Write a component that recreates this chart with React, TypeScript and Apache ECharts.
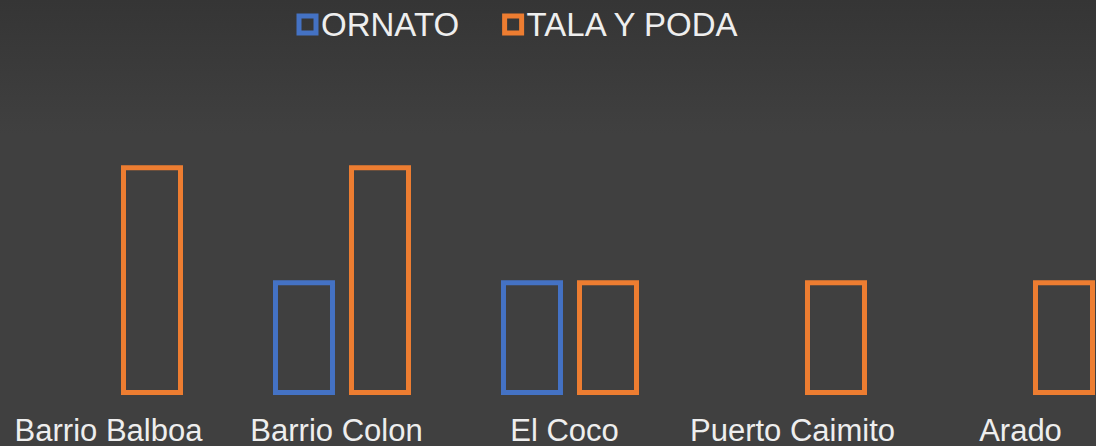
import React, { useEffect, useRef } from "react";
import * as echarts from "echarts";

const categories = ["Barrio Balboa", "Barrio Colon", "El Coco", "Puerto Caimito", "Arado"];
const ornato = [0, 1, 1, 0, 0];
const talaYPoda = [2, 2, 1, 1, 1];
const seriesNames = ["ORNATO", "TALA Y PODA"];
const colors = ["#4472C4", "#ED7D31"];

export default function App() {
  const ref = useRef<HTMLDivElement>(null);
  useEffect(() => {
    if (!ref.current) return;
    const chart = echarts.init(ref.current, undefined, { renderer: "svg" });
    const font = "'Liberation Sans', Arial, sans-serif";
    const mkSeries = (name: string, data: number[], color: string) => ({
      name,
      type: "bar",
      data: data.map((v) => (v === 0 ? null : v)),
      barWidth: 62,
      barGap: "22.6%",
      itemStyle: { color: "transparent", borderColor: color, borderWidth: 5 },
    });
    chart.setOption({
      animation: false,
      backgroundColor: {
        type: "linear",
        x: 0,
        y: 0,
        x2: 0,
        y2: 1,
        colorStops: [
          { offset: 0, color: "#353535" },
          { offset: 0.3, color: "#404040" },
          { offset: 1, color: "#404040" },
        ],
      },
      legend: {
        left: 296.5,
        top: 8,
        padding: 0,
        itemWidth: 17,
        itemHeight: 17,
        itemGap: 43,
        itemTextGap: 4,
        icon: "rect",
        textStyle: { color: "#eeeeee", fontSize: 33, fontFamily: font },
        data: seriesNames.map((n, i) => ({
          name: n,
          itemStyle: { color: "transparent", borderColor: colors[i], borderWidth: 5 },
        })),
      },
      grid: { left: 0, right: 0, top: 50.5, bottom: 49, containLabel: false },
      xAxis: {
        type: "category",
        data: categories,
        axisLine: { show: false },
        axisTick: { show: false },
        axisLabel: {
          color: "#eeeeee",
          fontSize: 31,
          lineHeight: 24,
          fontFamily: font,
          margin: 23.5,
          interval: 0,
          formatter: (v: string) => `{a|${v}}`,
          rich: {
            a: {
              color: "#eeeeee",
              fontSize: 31,
              lineHeight: 24,
              fontFamily: font,
              padding: [0, 11, 0, 0],
            },
          },
        },
      },
      yAxis: {
        type: "value",
        min: 0,
        max: 3,
        interval: 1,
        show: false,
        splitLine: { show: false },
      },
      series: [
        mkSeries(seriesNames[0], ornato, colors[0]),
        mkSeries(seriesNames[1], talaYPoda, colors[1]),
      ],
    });
    return () => chart.dispose();
  }, []);
  return (
    <div
      style={{
        position: "fixed",
        left: 0,
        top: 0,
        width: 1096,
        height: 446,
        overflow: "hidden",
      }}
    >
      <div ref={ref} style={{ width: 1140, height: 446 }} />
    </div>
  );
}
